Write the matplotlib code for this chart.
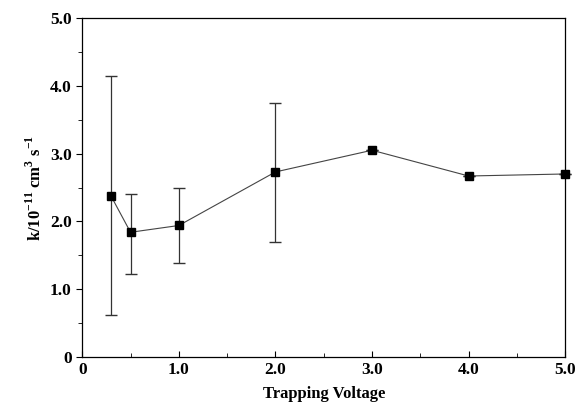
import matplotlib.pyplot as plt
from matplotlib.ticker import MultipleLocator

voltage = [0.3, 0.5, 1.0, 2.0, 3.0, 4.0, 5.0]
rate = [2.37, 1.84, 1.94, 2.73, 3.05, 2.67, 2.70]
err_low = [0.62, 1.23, 1.38, 1.70, 3.05, 2.67, 2.70]
err_high = [4.14, 2.41, 2.50, 3.75, 3.05, 2.67, 2.70]

yerr = [[r - lo for r, lo in zip(rate, err_low)],
        [hi - r for r, hi in zip(rate, err_high)]]

plt.rcParams["font.family"] = "Liberation Serif"
plt.rcParams["mathtext.fontset"] = "custom"
plt.rcParams["mathtext.rm"] = "Liberation Serif:bold"
plt.rcParams["mathtext.bf"] = "Liberation Serif:bold"

fig = plt.figure(figsize=(5.75, 4.2), dpi=100)
ax = fig.add_axes([0.143, 0.15, 0.84, 0.807])

ax.errorbar(voltage, rate, yerr=yerr, fmt="s", color="black", ms=6,
            ecolor="#333333", elinewidth=0.9, capsize=4, capthick=1.0,
            clip_on=False, zorder=3)
ax.plot(voltage, rate, color="#444444", lw=0.8)

ax.set_xlim(0, 5)
ax.set_ylim(0, 5)
ax.set_xticks([0, 1, 2, 3, 4, 5])
ax.set_xticklabels(["0", "1.0", "2.0", "3.0", "4.0", "5.0"])
ax.set_yticks([0, 1, 2, 3, 4, 5])
ax.set_yticklabels(["0", "1.0", "2.0", "3.0", "4.0", "5.0"])
ax.xaxis.set_minor_locator(MultipleLocator(0.5))
ax.yaxis.set_minor_locator(MultipleLocator(0.5))
ax.tick_params(axis="x", direction="in", length=4, labelsize=12.5)
ax.tick_params(axis="x", which="minor", direction="in", length=3)
ax.tick_params(axis="y", direction="out", length=4, labelsize=12.5)
ax.tick_params(axis="y", which="minor", direction="out", length=3)
for lab in ax.get_xticklabels() + ax.get_yticklabels():
    lab.set_fontweight("bold")
for s in ax.spines.values():
    s.set_linewidth(0.9)

ax.set_xlabel("Trapping Voltage", fontsize=12, fontweight="bold", labelpad=6)
ax.set_ylabel(r"k/10$^{-11}$ cm$^{3}$ s$^{-1}$", fontsize=12, fontweight="bold")

fig.savefig("out.png", dpi=100)
